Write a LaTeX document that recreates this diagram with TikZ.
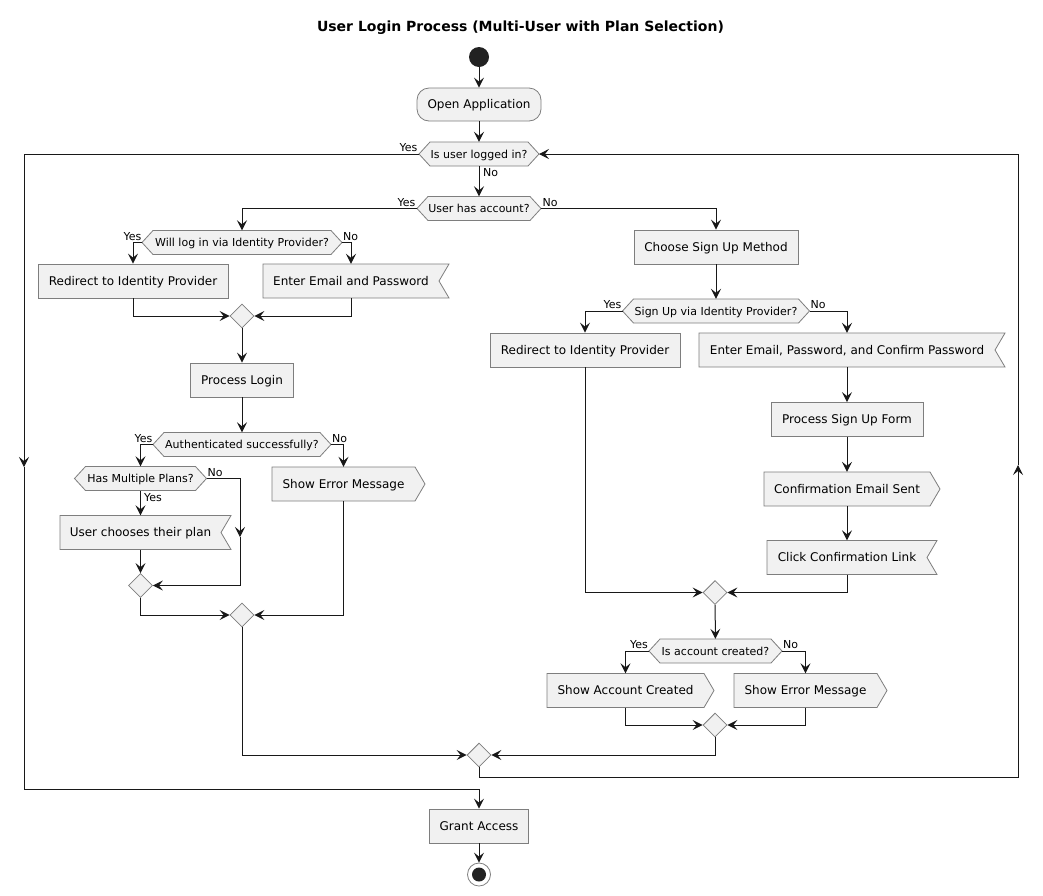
\documentclass[tikz,border=0pt]{standalone}
\usepackage{fontspec}
\setmainfont{DejaVu Sans}
\usetikzlibrary{arrows.meta,shapes.geometric,calc}

\definecolor{inkc}{HTML}{181818}
\definecolor{edgec}{HTML}{7E7E7E}
\definecolor{boxfill}{HTML}{F1F1F1}
\definecolor{dotc}{HTML}{222222}

\tikzset{
  flow/.style={draw=inkc, line width=1pt, -{Stealth[length=10pt,width=10pt,inset=4pt]}},
  shapeline/.style={draw=edgec, line width=0.8pt, fill=boxfill},
  bodyfont/.style={font=\fontsize{12}{14}\selectfont, text height=8.8pt, text depth=0pt},
  smallfont/.style={font=\fontsize{11}{13}\selectfont, text height=8pt, text depth=0pt},
  actbox/.style={rectangle, shapeline, minimum height=34pt, inner sep=0pt, bodyfont},
  acttext/.style={rectangle, minimum height=34pt, inner sep=0pt, bodyfont},
  dectext/.style={rectangle, minimum height=24pt, inner sep=0pt, smallfont},
  merge/.style={diamond, shapeline, minimum width=24pt, minimum height=24pt, inner sep=0pt},
  yeslbl/.style={anchor=east, inner sep=0pt, smallfont},
  nolbl/.style={anchor=west, inner sep=0pt, smallfont},
}

% decision hexagon: name, x, y, total width, text
\newcommand\decision[5]{%
  \draw[shapeline] ({#2-#4/2},#3) -- ({#2-#4/2+11},{#3-12}) -- ({#2+#4/2-11},{#3-12})
    -- ({#2+#4/2},#3) -- ({#2+#4/2-11},{#3+12}) -- ({#2-#4/2+11},{#3+12}) -- cycle;
  \node[dectext, minimum width={#4pt-22pt}] (#1) at (#2,#3) {#5};
  \coordinate (#1-l) at ({#2-#4/2},#3);
  \coordinate (#1-r) at ({#2+#4/2},#3);
}
% outgoing signal box (point on the right): name, x, y, body width, text
\newcommand\sendbox[5]{%
  \draw[shapeline] ({#2-#4/2},{#3-17}) -- ({#2+#4/2},{#3-17}) -- ({#2+#4/2+10},#3)
    -- ({#2+#4/2},{#3+17}) -- ({#2-#4/2},{#3+17}) -- cycle;
  \node[acttext, minimum width=#4pt] (#1) at (#2,#3) {#5};
}
% incoming signal box (notch on the right): name, x, y, body width, text
\newcommand\recvbox[5]{%
  \draw[shapeline] ({#2-#4/2},{#3-17}) -- ({#2+#4/2+10},{#3-17}) -- ({#2+#4/2},#3)
    -- ({#2+#4/2+10},{#3+17}) -- ({#2-#4/2},{#3+17}) -- cycle;
  \node[acttext, minimum width=#4pt] (#1) at (#2,#3) {#5};
}

\begin{document}
\begin{tikzpicture}[x=1pt, y=-1pt]
  \fill[white] (0,0) rectangle (1043,895);
  \useasboundingbox (0,0) rectangle (1043,895);

  \node[font=\fontsize{14}{16}\selectfont\bfseries, inner sep=0pt] (title) at (520.5,28)
    {User Login Process (Multi-User with Plan Selection)};

  % main column
  \node[circle, fill=dotc, minimum size=20pt, inner sep=0pt] (start) at (479,57) {};
  \node[actbox, rounded corners=12pt, minimum width=124pt, minimum height=33pt] (open) at (479,104.5) {Open Application};
  \decision{loggedin}{479}{154}{120}{Is user logged in?}
  \decision{hasacct}{479}{208.5}{124}{User has account?}

  % existing account: log in
  \decision{viaidp}{242}{242.5}{200}{Will log in via Identity Provider?}
  \node[actbox, minimum width=190pt] (redirA) at (133,281) {Redirect to Identity Provider};
  \recvbox{enterpw}{351}{281}{176}{Enter Email and Password}
  \node[merge] (mergeA) at (242,316) {};
  \node[actbox, minimum width=103pt] (proclogin) at (242,380) {Process Login};
  \decision{authok}{242}{444.5}{178}{Authenticated successfully?}
  \decision{multiplan}{140.5}{478.5}{132}{Has Multiple Plans?}
  \recvbox{chooseplan}{140.5}{532.5}{161}{User chooses their plan}
  \node[merge] (mergeB) at (140.5,585.5) {};
  \sendbox{errA}{343.5}{484}{143}{Show Error Message}
  \node[merge] (mergeC) at (242,615) {};

  % no account: sign up
  \node[actbox, minimum width=164pt] (signmethod) at (716,247) {Choose Sign Up Method};
  \decision{signidp}{716}{311}{187}{Sign Up via Identity Provider?}
  \node[actbox, minimum width=190pt] (redirB) at (585,350) {Redirect to Identity Provider};
  \recvbox{enterform}{847}{350}{296}{Enter Email, Password, and Confirm Password}
  \node[actbox, minimum width=152pt] (procform) at (847,419.5) {Process Sign Up Form};
  \sendbox{mailsent}{847}{489}{166}{Confirmation Email Sent}
  \recvbox{clicklink}{847}{557.5}{160}{Click Confirmation Link}
  \node[merge] (mergeD) at (715,592.5) {};
  \decision{created}{715.5}{651}{133}{Is account created?}
  \sendbox{okmsg}{625.5}{690.5}{157}{Show Account Created}
  \sendbox{errB}{805.5}{690.5}{143}{Show Error Message}
  \node[merge] (mergeE) at (715,725) {};

  \node[merge] (mergeF) at (479,755) {};
  \node[actbox, minimum width=99pt] (grant) at (479,826) {Grant Access};
  \node[circle, draw=edgec, line width=0.8pt, fill=white, minimum size=23pt, inner sep=0pt] (stop) at (479,874.5) {};
  \fill[dotc] (stop.center) circle (7pt);

  % loop corner points
  \coordinate (leftmid) at (24,467);
  \coordinate (leftbot) at (24,789);
  \coordinate (rightbot) at (1018,777);
  \coordinate (rightmid) at (1018,465);
  \coordinate (nomid) at (240,537);

  % connectors: main column
  \draw[flow] (start) -- (open);
  \draw[flow] (open) -- (loggedin);
  \draw[flow] (loggedin) -- (hasacct);
  \draw[flow] (hasacct-l) -| (viaidp.north);
  \draw[flow] (hasacct-r) -| (signmethod.north);

  % connectors: log in
  \draw[flow] (viaidp-l) -| (redirA.north);
  \draw[flow] (viaidp-r) -| (enterpw.north);
  \draw[flow] (redirA.south) |- (mergeA.west);
  \draw[flow] (enterpw.south) |- (mergeA.east);
  \draw[flow] (mergeA) -- (proclogin);
  \draw[flow] (proclogin) -- (authok);
  \draw[flow] (authok-l) -| (multiplan.north);
  \draw[flow] (authok-r) -| (errA.north);
  \draw[flow] (multiplan) -- (chooseplan);
  \draw[flow] (multiplan-r) -| (nomid);
  \draw[flow] (nomid) |- (mergeB.east);
  \draw[flow] (chooseplan) -- (mergeB);
  \draw[flow] (mergeB.south) |- (mergeC.west);
  \draw[flow] (errA.south) |- (mergeC.east);
  \draw[flow] (mergeC.south) |- (mergeF.west);

  % connectors: sign up
  \draw[flow] (signmethod) -- (signidp);
  \draw[flow] (signidp-l) -| (redirB.north);
  \draw[flow] (signidp-r) -| (enterform.north);
  \draw[flow] (enterform) -- (procform);
  \draw[flow] (procform) -- (mailsent);
  \draw[flow] (mailsent) -- (clicklink);
  \draw[flow] (redirB.south) |- (mergeD.west);
  \draw[flow] (clicklink.south) |- (mergeD.east);
  \draw[flow] (mergeD) -- (created);
  \draw[flow] (created-l) -| (okmsg.north);
  \draw[flow] (created-r) -| (errB.north);
  \draw[flow] (okmsg.south) |- (mergeE.west);
  \draw[flow] (errB.south) |- (mergeE.east);
  \draw[flow] (mergeE.south) |- (mergeF.east);

  % loop back and exit
  \draw[flow] (mergeF.south) |- (rightbot) -- (rightmid);
  \draw[flow] (rightmid) |- (loggedin-r);
  \draw[flow] (loggedin-l) -| (leftmid);
  \draw[flow] (leftmid) -- (leftbot) -| (grant.north);
  \draw[flow] (grant) -- (stop);

  % branch labels
  \node[yeslbl] (lblA) at (417.5,147.5) {Yes};
  \node[nolbl]  (lblB) at (483,172) {No};
  \node[yeslbl] (lblC) at (415.5,202) {Yes};
  \node[nolbl]  (lblD) at (542.5,202) {No};
  \node[yeslbl] (lblE) at (141.5,236) {Yes};
  \node[nolbl]  (lblF) at (343,236) {No};
  \node[yeslbl] (lblG) at (152.5,438) {Yes};
  \node[nolbl]  (lblH) at (332,438) {No};
  \node[nolbl]  (lblI) at (207.5,472) {No};
  \node[nolbl]  (lblJ) at (144,497) {Yes};
  \node[yeslbl] (lblK) at (621.5,304.5) {Yes};
  \node[nolbl]  (lblL) at (810.5,304.5) {No};
  \node[yeslbl] (lblM) at (648,644.5) {Yes};
  \node[nolbl]  (lblN) at (783,644.5) {No};
\end{tikzpicture}
\end{document}
